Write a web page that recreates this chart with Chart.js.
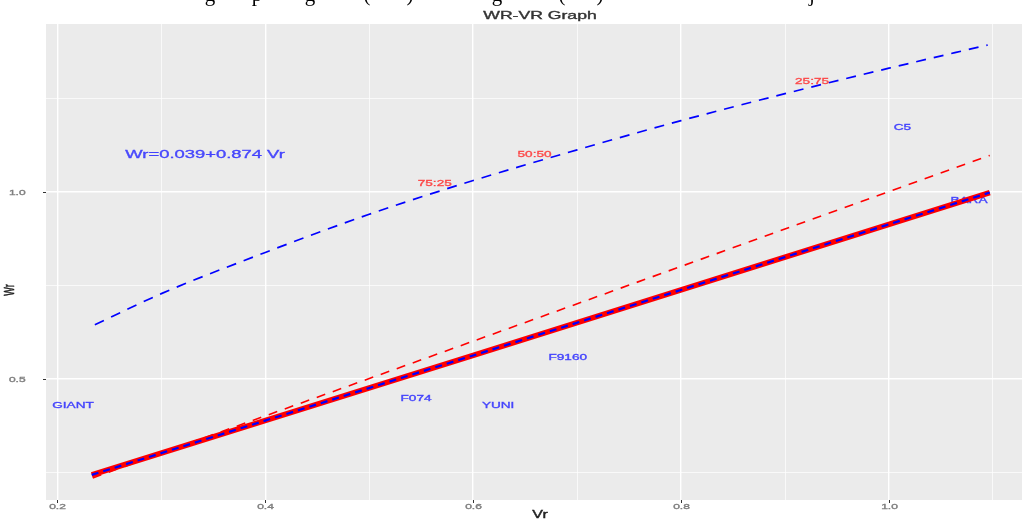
<!DOCTYPE html>
<html>
<head>
<meta charset="utf-8">
<script src="https://cdn.jsdelivr.net/npm/chart.js@4.4.0/dist/chart.umd.min.js"></script>
<style>
  body { margin: 0; background: #fff; }
  #wrap { width: 1026px; height: 521px; }
</style>
</head>
<body>
<div id="wrap"><canvas id="grafico" width="1026" height="521"></canvas></div>
<script>
// limit parabola (blue dashed curve)
const vrCurve = [0.236, 0.3, 0.4, 0.5, 0.6, 0.7, 0.8, 0.9, 1.0, 1.095];
const wrCurve = [0.645, 0.728, 0.838, 0.940, 1.030, 1.112, 1.190, 1.262, 1.330, 1.392];

// regression line Wr = 0.039 + 0.874 Vr
const vrFit = [0.233, 0.6, 1.097];
const wrFit = [0.244, 0.563, 0.998];

// unit slope line (red dashed)
const vrUnit = [0.234, 1.097];
const wrUnit = [0.236, 1.097];

// genotype labels
const genotipos = ['GIANT', 'F074', 'YUNI', 'F9160', 'C5', 'BARA'];
const vrGeno = [0.215, 0.545, 0.624, 0.691, 1.013, 1.077];
const wrGeno = [0.428, 0.447, 0.428, 0.556, 1.170, 0.975];

// ratio labels on the parabola
const ratios = ['75:25', '50:50', '25:75'];
const vrRatio = [0.563, 0.659, 0.926];
const wrRatio = [1.021, 1.098, 1.293];

const ecuacion = 'Wr=0.039+0.874 Vr';
const vrEcuacion = 0.342, wrEcuacion = 1.098;

// ticks
const xTicks = [0.2, 0.3, 0.4, 0.5, 0.6, 0.7, 0.8, 0.9, 1.0, 1.1];
const xLabels = ['0.2', '', '0.4', '', '0.6', '', '0.8', '', '1.0', ''];
const yTicks = [0.25, 0.5, 0.75, 1.0, 1.25];
const yLabels = ['', '0.5', '', '1.0', ''];

// bits of the document line above the figure
const docTexto = ['g', 'p', 'g', '(', ')', 'g', '(', ')', 'j'];
const docX = [210, 257, 310, 367, 410, 497, 562, 600, 812];

const STRETCH = 1.6;
function texto(ctx, txt, x, y, size, color, align, rotar, familia) {
    ctx.save();
    ctx.font = size + 'px ' + (familia || '"Liberation Sans", Arial, sans-serif');
    ctx.fillStyle = color;
    ctx.strokeStyle = color;
    ctx.lineWidth = 0.35;
    ctx.textAlign = align || 'center';
    ctx.textBaseline = 'middle';
    ctx.translate(x, y);
    ctx.scale(STRETCH, 1);
    if (rotar) ctx.rotate(-Math.PI / 2);
    ctx.fillText(txt, 0, 0);
    ctx.strokeText(txt, 0, 0);
    ctx.restore();
}

const pares = (xs, ys) => xs.map((v, i) => ({ x: v, y: ys[i] }));

const decorado = {
    id: 'decorado',
    beforeDraw(chart) {
        const { ctx, chartArea: a } = chart;
        ctx.save();
        ctx.fillStyle = '#ebebeb';
        ctx.fillRect(a.left, a.top, a.right - a.left, a.bottom - a.top);
        ctx.restore();
    },
    beforeDatasetsDraw(chart) {
        const { ctx, scales: { x, y } } = chart;
        genotipos.forEach((g, i) => {
            texto(ctx, g, x.getPixelForValue(vrGeno[i]), y.getPixelForValue(wrGeno[i]), 8.5, 'rgba(50,50,255,0.85)');
        });
        texto(ctx, ecuacion, x.getPixelForValue(vrEcuacion), y.getPixelForValue(wrEcuacion), 11.5, 'rgba(50,50,255,0.85)');
    },
    afterDatasetsDraw(chart) {
        const { ctx, scales: { x, y } } = chart;
        ratios.forEach((r, i) => {
            texto(ctx, r, x.getPixelForValue(vrRatio[i]), y.getPixelForValue(wrRatio[i]), 8.5, 'rgba(255,50,50,0.8)');
        });
    },
    afterDraw(chart) {
        const { ctx, chartArea: a, scales: { x, y } } = chart;
        ctx.save();
        ctx.strokeStyle = '#333';
        ctx.lineWidth = 1;
        xTicks.forEach((v, i) => {
            if (!xLabels[i]) return;
            const px = Math.round(x.getPixelForValue(v)) + 0.5;
            ctx.beginPath(); ctx.moveTo(px, a.bottom); ctx.lineTo(px, a.bottom + 3); ctx.stroke();
            texto(ctx, xLabels[i], px, a.bottom + 7, 7.5, '#808080');
        });
        yTicks.forEach((v, i) => {
            if (!yLabels[i]) return;
            const py = Math.round(y.getPixelForValue(v)) + 0.5;
            ctx.beginPath(); ctx.moveTo(a.left - 3, py); ctx.lineTo(a.left, py); ctx.stroke();
            texto(ctx, yLabels[i], 41 / STRETCH, py, 7.5, '#808080', 'right');
        });
        ctx.restore();
        texto(ctx, 'WR-VR Graph', 540, 16, 11, '#333');
        texto(ctx, 'Vr', 540, 515, 10, '#222');
        texto(ctx, 'Wr', 10, 290, 9, '#222', 'center', true);
        docTexto.forEach((t, i) => {
            ctx.save();
            ctx.font = '21px "Liberation Serif", "Times New Roman", serif';
            ctx.fillStyle = '#000';
            ctx.textAlign = 'center';
            ctx.textBaseline = 'alphabetic';
            ctx.fillText(t, docX[i], 1);
            ctx.restore();
        });
    }
};

const grafico = document.getElementById('grafico').getContext('2d');
const myChart = new Chart(grafico, {
    type: 'scatter',
    data: {
        datasets: [{
            data: pares(vrFit, wrFit),
            showLine: true,
            borderColor: '#0000ff',
            borderWidth: 2.2,
            borderDash: [7, 5],
            pointRadius: 0
        }, {
            data: pares(vrFit, wrFit),
            showLine: true,
            borderColor: '#ff0000',
            borderWidth: 5.5,
            pointRadius: 0
        }, {
            data: pares(vrUnit, wrUnit),
            showLine: true,
            borderColor: '#ff0000',
            borderWidth: 1.6,
            borderDash: [9, 8],
            pointRadius: 0
        }, {
            data: pares(vrCurve, wrCurve),
            showLine: true,
            borderColor: '#0000ff',
            borderWidth: 1.7,
            borderDash: [10, 8],
            cubicInterpolationMode: 'monotone',
            pointRadius: 0
        }]
    },
    options: {
        responsive: false,
        animation: false,
        layout: { padding: { top: 24, right: 4, left: 0, bottom: 0 } },
        plugins: { legend: { display: false }, tooltip: { enabled: false } },
        scales: {
            x: {
                type: 'linear',
                min: 0.189,
                max: 1.128,
                afterBuildTicks: (s) => { s.ticks = xTicks.map(v => ({ value: v })); },
                afterFit: (s) => { s.height = 21; },
                ticks: { display: false },
                border: { display: false },
                grid: {
                    color: '#ffffff',
                    drawTicks: false,
                    lineWidth: (c) => (xLabels[xTicks.indexOf(c.tick.value)] ? 1.4 : 0.7)
                }
            },
            y: {
                type: 'linear',
                min: 0.177,
                max: 1.448,
                afterBuildTicks: (s) => { s.ticks = yTicks.map(v => ({ value: v })); },
                afterFit: (s) => { s.width = 46; },
                ticks: { display: false },
                border: { display: false },
                grid: {
                    color: '#ffffff',
                    drawTicks: false,
                    lineWidth: (c) => (yLabels[yTicks.indexOf(c.tick.value)] ? 1.4 : 0.7)
                }
            }
        }
    },
    plugins: [decorado]
});
</script>
</body>
</html>
